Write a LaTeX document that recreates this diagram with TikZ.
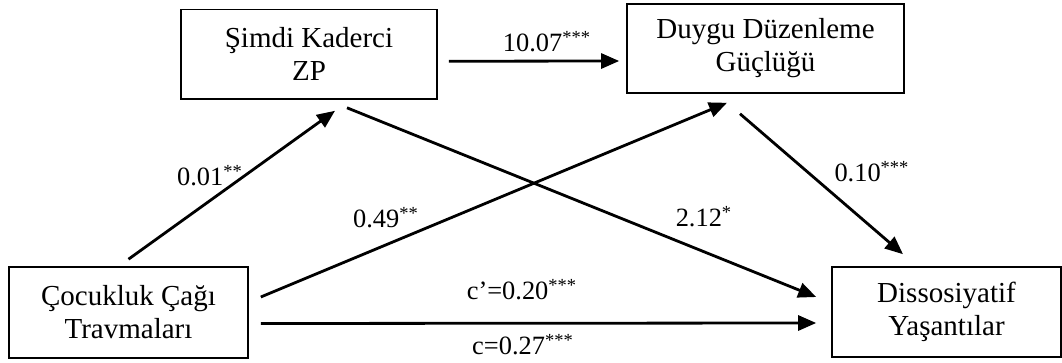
\documentclass[tikz,border=0pt]{standalone}
\usepackage{fontspec}
\setmainfont{Liberation Serif}
\usetikzlibrary{arrows.meta}

\begin{document}
\begin{tikzpicture}[
    x=0.5pt, y=-0.5pt, font=\fontsize{13.2}{15}\selectfont,
    >={Triangle[length=9pt,width=7.5pt]},
    box/.style={draw, line width=0.8pt, align=center, inner sep=0pt,
                font=\fontsize{14.5}{16.5}\selectfont},
    arr/.style={->, line width=1.4pt},
    coef/.style={anchor=base, inner sep=0pt}
]
    \useasboundingbox (0,0) rectangle (1062,363);

    \node[box, minimum width=128pt, minimum height=44.75pt] (ZP) at (309,54.25) {Şimdi Kaderci\\ZP};
    \node[box, minimum width=138.5pt, minimum height=44.5pt] (DDG) at (765.5,48.5) {Duygu Düzenleme\\Güçlüğü};
    \node[box, minimum width=119.5pt, minimum height=45.5pt] (CCT) at (128.5,312.5) {Çocukluk Çağı\\Travmaları};
    \node[box, minimum width=114.5pt, minimum height=45pt] (DY) at (946.5,312) {Dissosiyatif\\Yaşantılar};

    \draw[arr] ([yshift=3.5pt]CCT.north) -- ([xshift=13pt,yshift=-5.5pt]ZP.south);
    \draw[arr] ([xshift=19pt,yshift=-4pt]ZP.south) -- ([xshift=-7.5pt,yshift=7.5pt]DY.west);
    \draw[arr] ([xshift=6pt,yshift=7.75pt]CCT.east) -- ([xshift=-19.25pt,yshift=-4.5pt]DDG.south);
    \draw[arr] ([xshift=-12.75pt,yshift=-10pt]DDG.south) -- ([xshift=-21.75pt,yshift=6pt]DY.north);
    \draw[arr] ([xshift=5.5pt,yshift=-3.5pt]ZP.east) -- ([xshift=-3.5pt,yshift=-6.25pt]DDG.west);
    \draw[arr] ([xshift=6pt,yshift=-5.5pt]CCT.east) -- ([xshift=-7.5pt,yshift=-5.5pt]DY.west);

    \node[coef] (a1) at (547,52) {10.07\textsuperscript{***}};
    \node[coef] (a2) at (210,186) {0.01\textsuperscript{**}};
    \node[coef] (a3) at (386,228) {0.49\textsuperscript{**}};
    \node[coef] (a4) at (704,227) {2.12\textsuperscript{*}};
    \node[coef] (a5) at (872,182) {0.10\textsuperscript{***}};
    \node[coef] (a6) at (522,300) {c’=0.20\textsuperscript{***}};
    \node[coef] (a7) at (523,355) {c=0.27\textsuperscript{***}};
\end{tikzpicture}
\end{document}
